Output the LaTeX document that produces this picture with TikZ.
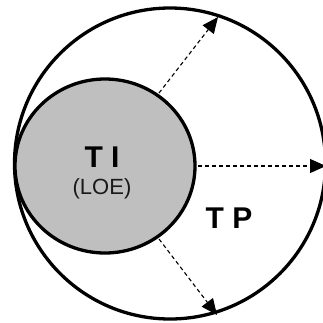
\documentclass[tikz,border=0pt]{standalone}
\usepackage{fontspec}
\setmainfont{Liberation Sans}
\usetikzlibrary{arrows.meta}
\begin{document}
\begin{tikzpicture}[x=1pt,y=-1pt,
  ring/.style={draw=black,line width=3.3pt},
  core/.style={draw=black,line width=3.3pt,fill=black!25},
  ray/.style={draw=black,line width=1.1pt,dash pattern=on 4pt off 3pt,-{Triangle[length=16pt,width=14pt]}},
  big/.style={font=\bfseries\fontsize{30}{32}\selectfont},
  small/.style={font=\fontsize{22}{24}\selectfont,text=black!90}]
\useasboundingbox (0,0) rectangle (323,322);
\draw[ring] (170,163.5) circle (155.5);
\draw[core] (105,166) ellipse (90 and 87);
\coordinate (a1) at (159,93);
\coordinate (b1) at (218,17);
\coordinate (a2) at (198,166);
\coordinate (b2) at (326,166);
\coordinate (a3) at (159,239);
\coordinate (b3) at (217,315);
\draw[ray] (a1) -- (b1);
\draw[ray] (a2) -- (b2);
\draw[ray] (a3) -- (b3);
\node[big] (ti) at (102,157) {T I};
\node[small] (loe) at (102,189) {(LOE)};
\node[big] (tp) at (229,218) {T P};
\end{tikzpicture}
\end{document}
